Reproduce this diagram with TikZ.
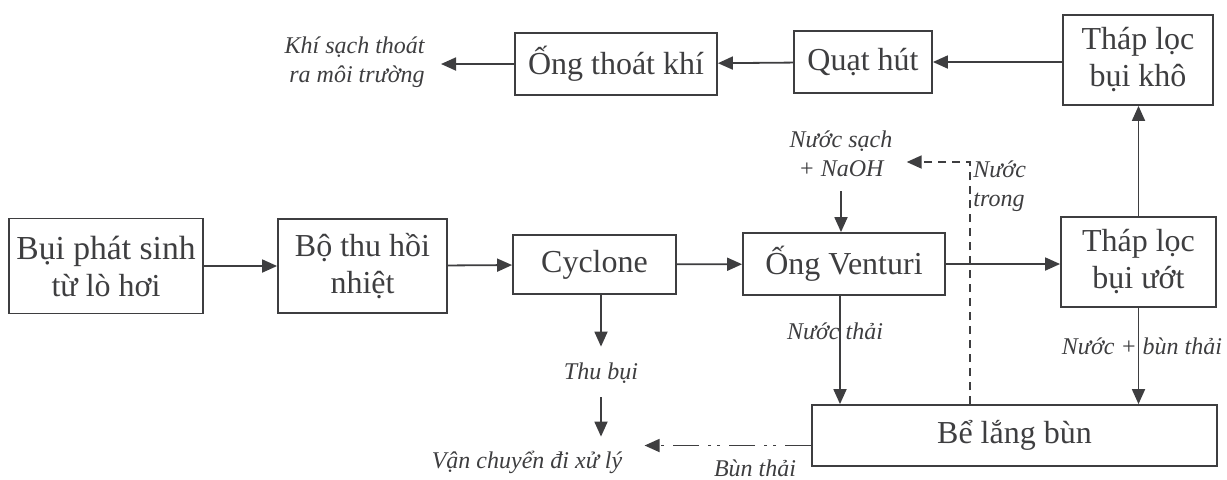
\documentclass[tikz,border=0pt]{standalone}
\usepackage{fontspec}
\setmainfont{Liberation Serif}
\usetikzlibrary{arrows.meta}

\definecolor{ink}{RGB}{62,62,64}

\begin{document}
\begin{tikzpicture}[x=0.5pt, y=-0.5pt,
        box/.style={draw=ink, line width=0.9pt, inner sep=0pt, align=center, text=ink, font=\fontsize{16}{18.5}\selectfont},
        note/.style={inner sep=0pt, text=ink, font=\fontsize{12}{14}\selectfont\itshape, text height=9pt, text depth=3pt},
        notes/.style={inner sep=0pt, text=ink, font=\fontsize{12}{14.5}\selectfont\itshape},
        tip/.style={-{Triangle[length=7.5pt,width=6.5pt]}},
        flow/.style={draw=ink, line width=0.9pt, tip}]
            \useasboundingbox (0,0) rectangle (1227,479);
            % hang giua
            \node[box, minimum width=97pt, minimum height=47.5pt] (bui) at (106,266) {{\fontsize{16.8}{18.5}\selectfont Bụi phát sinh}\\từ lò hơi};
            \node[box, minimum width=84.5pt, minimum height=47pt] (nhiet) at (362.5,266) {Bộ thu hồi\\nhiệt};
            \node[box, minimum width=81.5pt, minimum height=29.5pt] (cyclone) at (594.5,264.5) {Cyclone};
            \node[box, minimum width=101pt, minimum height=31pt] (venturi) at (844,264) {Ống Venturi};
            \node[box, minimum width=77.5pt, minimum height=45pt] (uot) at (1138.5,262) {Tháp lọc\\bụi ướt};
            % hang tren
            \node[box, minimum width=75pt, minimum height=45pt] (kho) at (1138,60) {Tháp lọc\\bụi khô};
            \node[box, minimum width=69pt, minimum height=31pt] (quat) at (863,62) {Quạt hút};
            \node[box, minimum width=101pt, minimum height=31pt] (ong) at (616,64) {Ống thoát khí};
            % hang duoi
            \node[box, minimum width=202.5pt, minimum height=30.5pt] (be) at (1014.5,435.5) {Bể lắng bùn};
            % chu thich
            \node[notes, align=right, anchor=east] (khi) at (425,62) {Khí sạch thoát\\ra môi trường};
            \node[notes, align=center] (sach) at (841,154) {Nước sạch\\+ NaOH};
            \node[notes, align=left, anchor=west] (trong) at (973,186) {Nước\\trong};
            \node[note] (nthai) at (835,333) {Nước thải};
            \node[note] (nbun) at (1142,348) {Nước + bùn thải};
            \node[note] (thu) at (601,373) {Thu bụi};
            \node[note] (vc) at (527,462) {Vận chuyển đi xử lý};
            \node[note] (bthai) at (755,470) {Bùn thải};
            \coordinate (hoi) at (970,162);
            % duong di
            \draw[flow] (bui) -- (nhiet);
            \draw[flow] (nhiet) -- (cyclone);
            \draw[flow] (cyclone) -- (venturi);
            \draw[flow] (venturi.east) -- (venturi.east -| uot.west);
            \draw[flow] (uot.north) -- (uot.north |- kho.south);
            \draw[flow] (kho.west |- quat) -- (quat.east);
            \draw[flow] (quat) -- (ong);
            \draw[flow, shorten >=8pt] (ong.west) -- (khi.east |- ong);
            \draw[flow, shorten <=7pt] (sach.south) -- (sach.south |- venturi.north);
            \draw[flow] (venturi.south -| 840,0) -- (be.north -| 840,0);
            \draw[flow] (uot.south) -- (uot.south |- be.north);
            \draw[flow, shorten >=7pt] (cyclone.south -| thu) -- (thu.north);
            \draw[flow, shorten <=6pt, shorten >=6.5pt] (thu.south) -- (vc.north -| thu);
            \draw[draw=ink, line width=0.9pt, dash pattern=on 4pt off 3pt, tip]
                (hoi |- be.north) -- (hoi) -- ([xshift=7pt]sach.east |- hoi);
            \draw[draw=ink, line width=0.9pt, dash pattern=on 13pt off 4.5pt on 1.5pt off 3pt on 1.5pt off 4.5pt, tip, shorten >=11pt]
                ([yshift=-5pt]be.west) -- ([yshift=-5pt]be.west -| vc.east);
\end{tikzpicture}
\end{document}
